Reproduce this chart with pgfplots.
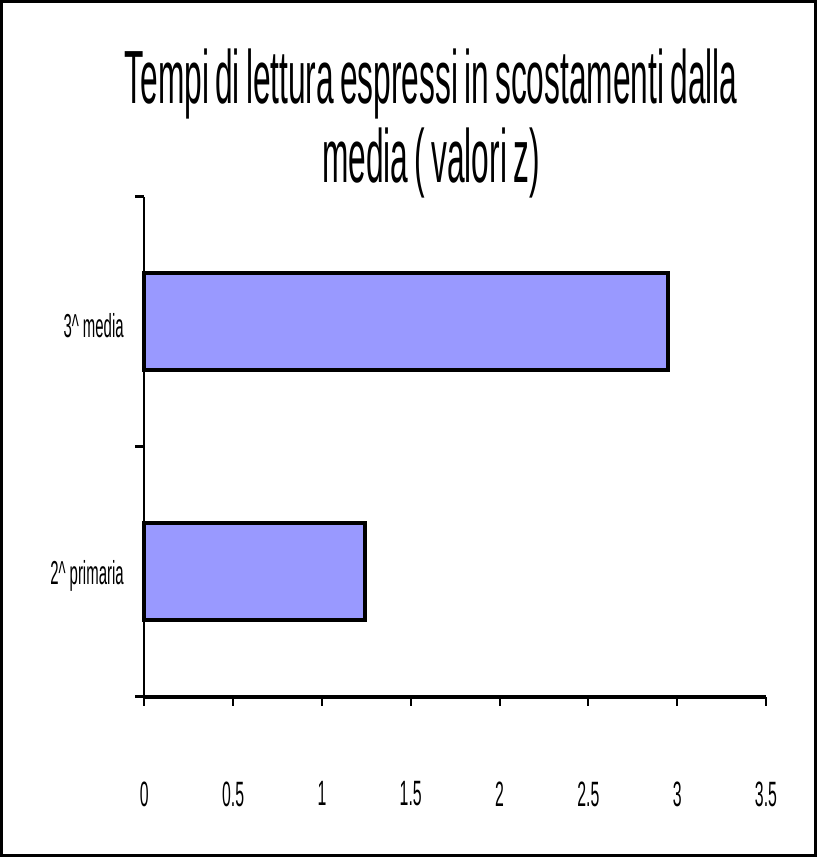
\documentclass[border=0pt]{standalone}
\usepackage{fontspec}
\setmainfont{Liberation Sans}[FakeStretch=0.45]
\newfontfamily\titlefont{Liberation Sans}[FakeStretch=0.42, WordSpace=0.7]
\usepackage{pgfplots}
\pgfplotsset{compat=1.18}
\definecolor{barblue}{HTML}{9999FF}

\begin{document}
\begin{tikzpicture}
\begin{axis}[
    scale only axis,
    width=618pt, height=497pt,
    xbar,
    bar width=96pt,
    xmin=0, xmax=3.5,
    ymin=-0.5, ymax=1.5,
    axis x line=bottom,
    axis y line=left,
    axis line style={-},
    x axis line style={line width=4pt},
    y axis line style={line width=2pt},
    xtick={0,0.5,...,3.5},
    xtick align=outside,
    major tick length=9pt,
    xtick style={line width=2pt, black},
    ytick={-0.5,0.5,1.5},
    yticklabels={},
    ytick style={line width=3pt, black},
    ytick align=outside,
    extra y ticks={0,1},
    extra y tick labels={2\textasciicircum{} primaria, 3\textasciicircum{} media},
    extra y tick style={tick style={draw=none}, yticklabel style={xshift=-8pt, yshift=-4pt}},
    /pgf/number format/assume math mode=true,
    xticklabel style={font=\fontsize{35}{40}\selectfont, yshift=-72pt},
    yticklabel style={font=\fontsize{33}{38}\selectfont},
    clip=false,
]
\addplot[fill=barblue, draw=black, line width=4pt] coordinates {(1.245,0) (2.95,1)};
\end{axis}
\draw[line width=3pt] (-142pt,-158pt) rectangle (667pt,691pt);
\node[font=\titlefont\fontsize{75}{85}\selectfont, anchor=base] at (285pt,590pt) {Tempi di lettura espressi in scostamenti dalla};
\node[font=\titlefont\fontsize{75}{85}\selectfont, anchor=base] at (285pt,511pt) {media ( valori z)};
\end{tikzpicture}
\end{document}
